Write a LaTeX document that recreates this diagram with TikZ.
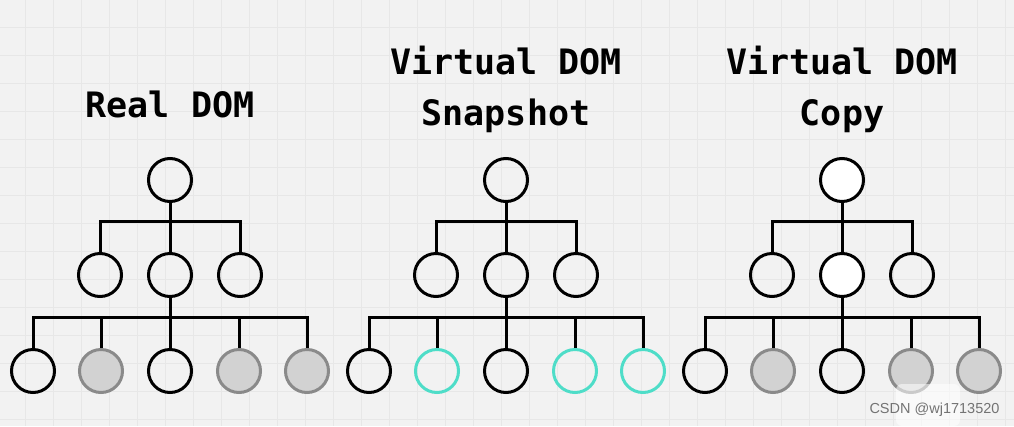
\documentclass[tikz,border=0pt]{standalone}
\usepackage{fontspec}
\newfontfamily\titlefont{DejaVu Sans Mono}
\newfontfamily\wmfont{Liberation Sans}
\definecolor{bgc}{HTML}{F2F2F2}
\definecolor{gridc}{HTML}{E7E7E7}
\definecolor{greyfill}{HTML}{D2D2D2}
\definecolor{greydraw}{HTML}{8A8A8A}
\definecolor{tealc}{RGB}{78,221,200}
\begin{document}
\begin{tikzpicture}[x=1pt,y=-1pt,line width=3pt,
  nd/.style={circle,draw=black,minimum size=43pt,inner sep=0pt,line width=3pt},
  gr/.style={nd,fill=greyfill,draw=greydraw},
  tl/.style={nd,draw=tealc},
  wh/.style={nd,fill=white},
  title/.style={font=\titlefont\bfseries\fontsize{35}{51}\selectfont,anchor=base,inner sep=0pt},
  conn/.style={draw=black,line width=3pt}]
\useasboundingbox (0,0) rectangle (1014,426);
\fill[bgc] (0,0) rectangle (1014,426);
\foreach \gx in {25,53,...,1014} \draw[gridc,line width=0.8pt] (\gx,0) -- (\gx,426);
\foreach \gy in {27,55,...,426} \draw[gridc,line width=0.8pt] (0,\gy) -- (1014,\gy);

\node[title] (h1) at (170,117) {Real DOM};
\node[title] (h2a) at (506,74) {Virtual DOM};
\node[title] (h2b) at (506,125) {Snapshot};
\node[title] (h3a) at (842,74) {Virtual DOM};
\node[title] (h3b) at (842,125) {Copy};

\foreach \t/\ox/\rs/\ms/\ls in {1/0/nd/nd/gr,2/336/nd/nd/tl,3/672/wh/wh/gr}{
  \node[\rs] (t\t r) at (170+\ox,180) {};
  \node[nd] (t\t a) at (100+\ox,275) {};
  \node[\ms] (t\t b) at (170+\ox,275) {};
  \node[nd] (t\t c) at (240+\ox,275) {};
  \node[nd] (t\t l1) at (33+\ox,371) {};
  \node[\ls] (t\t l2) at (101+\ox,371) {};
  \node[nd] (t\t l3) at (170+\ox,371) {};
  \node[\ls] (t\t l4) at (239+\ox,371) {};
  \node[\ls] (t\t l5) at (307+\ox,371) {};
  \coordinate (t\t j1) at (170+\ox,221);
  \coordinate (t\t j2) at (170+\ox,317);
  \foreach \c in {a,b,c}
    \draw[conn] (t\t r.south) -- (t\t j1) -| (t\t\c.north);
  \foreach \k in {1,...,5}
    \draw[conn] (t\t b.south) -- (t\t j2) -| (t\t l\k.north);
}

\fill[white,opacity=0.55,rounded corners=6pt] (896,384) rectangle (960,426);
\node[anchor=base west,inner sep=0pt,font=\wmfont\fontsize{14.5}{14.5}\selectfont,text=black!55] (wm) at (868,413) {CSDN @wj1713520};
\end{tikzpicture}
\end{document}
